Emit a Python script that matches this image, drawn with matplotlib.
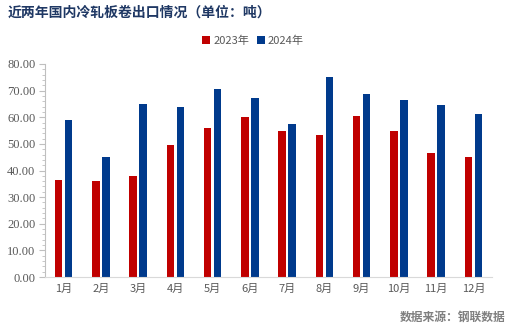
import matplotlib
matplotlib.use("Agg")
import matplotlib.pyplot as plt
import numpy as np
from matplotlib.ticker import MultipleLocator, FormatStrFormatter

months = ["1月", "2月", "3月", "4月", "5月", "6月", "7月", "8月", "9月", "10月", "11月", "12月"]
v2023 = [36.3, 35.9, 38.1, 49.7, 56.1, 60.2, 55.0, 53.5, 60.6, 55.0, 46.4, 44.9]
v2024 = [59.1, 45.2, 64.8, 63.9, 70.7, 67.3, 57.6, 75.1, 68.8, 66.5, 64.7, 61.3]
series_names = ["2023年", "2024年"]

cjk = ["Noto Sans CJK SC", "DejaVu Sans"]
red = "#C00000"
blue = "#003A8C"
gray = "#595959"

fig = plt.figure(figsize=(5.12, 3.29), dpi=100)
ax = fig.add_axes([45/512, 1-277/329, 447/512, 213/329])

x = np.arange(len(months))
w = 0.2
off = 0.135
ax.bar(x - off, v2023, w, color=red, label=series_names[0])
ax.bar(x + off, v2024, w, color=blue, label=series_names[1])

ax.set_xlim(-0.5, len(months) - 0.5)
ax.set_ylim(0, 80)
ax.yaxis.set_major_locator(MultipleLocator(10))
ax.yaxis.set_minor_locator(MultipleLocator(2))
ax.yaxis.set_major_formatter(FormatStrFormatter("%.2f"))
for lab in ax.get_yticklabels():
    lab.set_family("Liberation Serif")
    lab.set_fontsize(9)
    lab.set_color(gray)
ax.tick_params(axis="y", which="major", length=4, color="#BFBFBF", pad=3)
ax.tick_params(axis="y", which="minor", length=2, color="#BFBFBF")
ax.set_xticks(x)
ax.set_xticklabels(months, family=cjk, fontsize=8, color=gray)
ax.tick_params(axis="x", length=0, pad=5)

for s in ["top", "right"]:
    ax.spines[s].set_visible(False)
ax.spines["left"].set_color("#BFBFBF")
ax.spines["bottom"].set_color("#D9D9D9")

fig.text(8/512, 1-13/329, "近两年国内冷轧板卷出口情况（单位：吨）", family=cjk,
         fontsize=10, fontweight="bold", color="#1F3864", va="center", ha="left")

leg = fig.legend(loc="center", bbox_to_anchor=(253/512, 1-41/329), ncol=2, frameon=False,
                 prop={"family": cjk, "size": 8}, handlelength=0.7, handleheight=0.7,
                 handletextpad=0.3, columnspacing=0.7, borderpad=0)
for t in leg.get_texts():
    t.set_color(gray)

fig.text(505/512, 1-317/329, "数据来源：钢联数据", family=cjk, fontsize=8.5,
         color="#7F7F7F", ha="right", va="center", fontweight="bold")

fig.savefig("out.png", dpi=100)
